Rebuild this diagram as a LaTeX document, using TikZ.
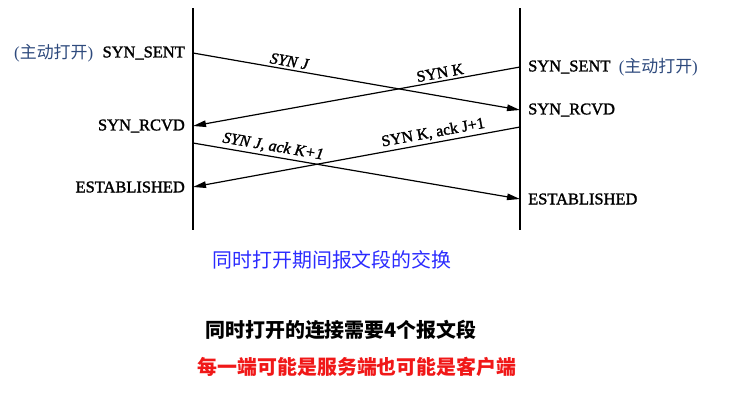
\documentclass[tikz,border=0pt]{standalone}
\usepackage{fontspec}
\setmainfont{Liberation Serif}
\newfontfamily\statefont[FakeBold=1.6]{Liberation Serif}
\newfontfamily\cjk{Noto Sans CJK SC}
\usetikzlibrary{arrows.meta}
\definecolor{notecol}{HTML}{2E4A7D}
\definecolor{capblue}{HTML}{2B2BFF}
\definecolor{capred}{HTML}{F01818}
\tikzset{
  timeline/.style={line width=1.4bp},
  segment/.style={line width=1.2bp,-{Triangle[length=13bp,width=6.5bp]}},
  state/.style={font=\statefont\fontsize{16.5}{18}\selectfont, inner sep=0pt},
  note/.style={font=\fontsize{17}{19}\selectfont, text=notecol, inner sep=0pt},
  seglabel/.style={font=\statefont\fontsize{16}{18}\selectfont, sloped, above, inner sep=1.5bp, yshift=1bp},
  caption/.style={font=\cjk\fontsize{20}{24}\selectfont, inner sep=0pt}
}
\begin{document}
\begin{tikzpicture}[x=1bp,y=-1bp]
\useasboundingbox (0,0) rectangle (754,401);
% the two end points' time lines
\coordinate (Ltop) at (193,8);
\coordinate (Lbot) at (193,230);
\coordinate (Rtop) at (520,8);
\coordinate (Rbot) at (520,230);
\draw[timeline] (Ltop) -- (Lbot);
\draw[timeline] (Rtop) -- (Rbot);
% points where segments leave or arrive
\coordinate (Lsent) at (193,53);
\coordinate (Lrcvd) at (193,126);
\coordinate (Lack)  at (193,143);
\coordinate (Lest)  at (193,187);
\coordinate (Rsent) at (520,67);
\coordinate (Rrcvd) at (520,110);
\coordinate (Rack)  at (520,127);
\coordinate (Rest)  at (520,199);
% state labels, left side
\node[state, anchor=east] (lsent) at ([xshift=-8bp]Lsent) {SYN\_SENT};
\node[note, anchor=east] (lnote) at ([xshift=-9bp]lsent.west) {(\cjk 主动打开\normalfont)};
\node[state, anchor=east] (lrcvd) at ([xshift=-8bp]Lrcvd) {SYN\_RCVD};
\node[state, anchor=east] (lest) at ([xshift=-8bp]Lest) {ESTABLISHED};
% state labels, right side
\node[state, anchor=west] (rsent) at ([xshift=8bp]Rsent) {SYN\_SENT};
\node[note, anchor=west] (rnote) at ([xshift=8bp]rsent.east) {(\cjk 主动打开\normalfont)};
\node[state, anchor=west] (rrcvd) at ([xshift=8bp]Rrcvd) {SYN\_RCVD};
\node[state, anchor=west] (rest) at ([xshift=8bp]Rest) {ESTABLISHED};
% segments
\draw[segment] (Lsent) -- node[seglabel, pos=0.29] (synj) {\itshape SYN J} (Rrcvd);
\draw[segment] (Rsent) -- node[seglabel, pos=0.24] (synk) {SYN K} (Lrcvd);
\draw[segment] (Lack) -- node[seglabel, pos=0.24] (synjack) {\itshape SYN J, ack K+1} (Rest);
\draw[segment] (Rack) -- node[seglabel, pos=0.26] (synkack) {SYN K, ack J+1} (Lest);
% captions
\node[caption, text=capblue] (cap1) at (332,260) {同时打开期间报文段的交换};
\node[caption, font=\cjk\bfseries\fontsize{20}{24}\selectfont] (cap2) at (341,330) {同时打开的连接需要4个报文段};
\node[caption, text=capred, font=\cjk\bfseries\fontsize{20}{24}\selectfont] (cap3) at (357,367) {每一端可能是服务端也可能是客户端};
\end{tikzpicture}
\end{document}
